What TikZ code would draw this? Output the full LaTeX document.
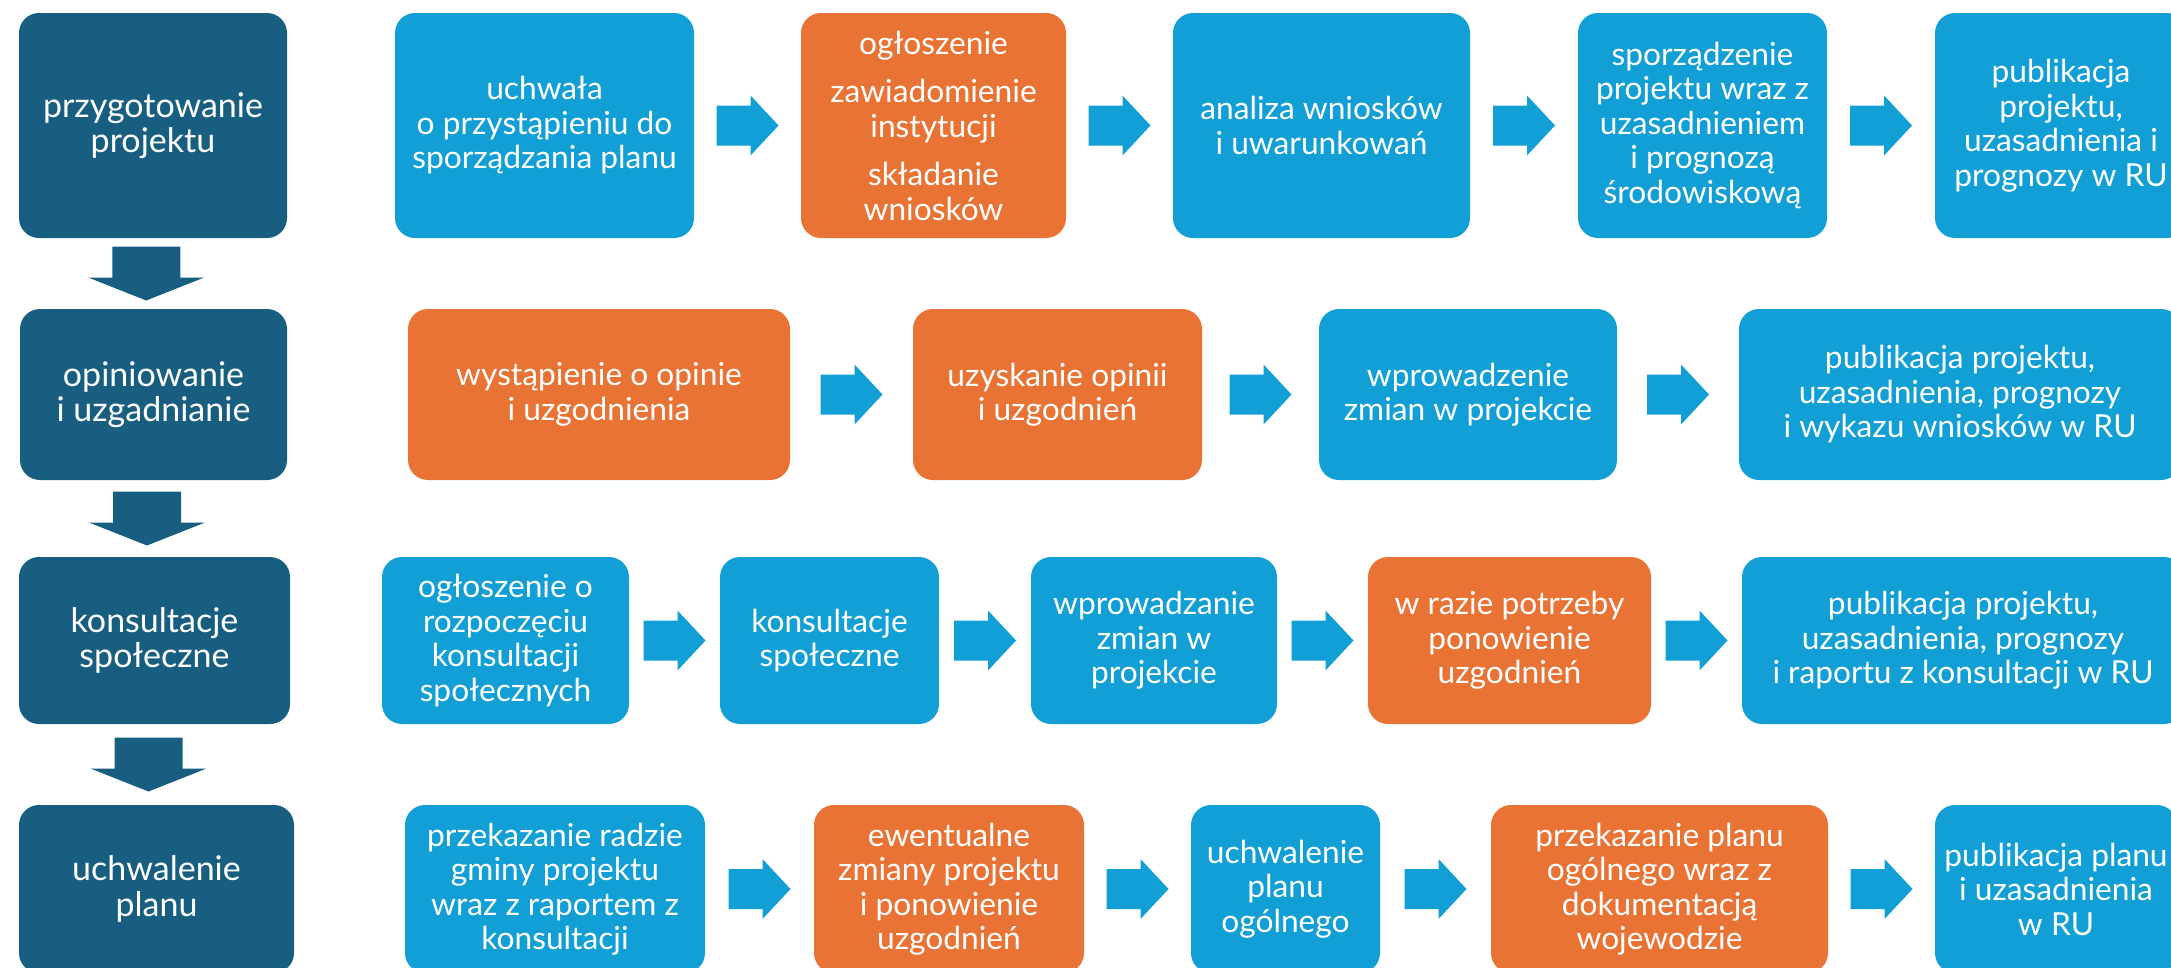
\documentclass[tikz,border=0pt]{standalone}
\usepackage{fontspec}
\setmainfont{Lato}
\usepackage{tikz}
\usetikzlibrary{calc}

\definecolor{phaseblue}{RGB}{23,94,128}
\definecolor{stepblue}{RGB}{18,159,214}
\definecolor{steporange}{RGB}{232,115,52}

\tikzset{
  box/.style={rectangle, rounded corners=20pt, inner sep=0pt, text=white,
    align=center, font=\fontsize{31.7}{34.5}\selectfont},
  phase/.style={box, fill=phaseblue, font=\fontsize{34}{35.5}\selectfont},
  stepbox/.style={box, fill=stepblue},
  orangebox/.style={box, fill=steporange},
  steparr/.style={fill=stepblue, to path={
    ($(\tikztostart.east)!0.5!(\tikztotarget.west)$) ++(-31,-20) -- ++(34,0)
    -- ++(0,-10) -- ++(28,30) -- ++(-28,30) -- ++(0,-10) -- ++(-34,0) -- cycle}},
  phasearr/.style={fill=phaseblue, to path={
    ($(\tikztostart.south)!0.5!(\tikztotarget.north)$) ++(-41,-27) -- ++(68,0)
    -- ++(0,31) -- ++(24,0) -- ++(-58,23) -- ++(-58,-23) -- ++(24,0) -- cycle}},
}

\begin{document}
\begin{tikzpicture}[x=1pt,y=-1pt]
\useasboundingbox (0,0) rectangle (2171,967);
\clip (0,0) rectangle (2171,967);

% phases
\node[phase, minimum width=268, minimum height=225] (ph1) at (153,125.5) {przygotowanie\\projektu};
\node[phase, minimum width=267, minimum height=171] (ph2) at (153.5,394.5) {opiniowanie\\i uzgadnianie};
\node[phase, minimum width=271, minimum height=167] (ph3) at (154.5,640.5) {konsultacje\\społeczne};
\node[phase, minimum width=275, minimum height=168] (ph4) at (156.5,889) {uchwalenie\\planu};

\path[phasearr] (ph1) to (ph2);
\path[phasearr] (ph2) to (ph3);
\path[phasearr] (ph3) to (ph4);

% row 1
\node[stepbox, minimum width=299, minimum height=225] (uchw) at (544.5,125.5) {uchwała\\o przystąpieniu do\\sporządzania planu};
\node[orangebox, minimum width=265, minimum height=225] (oglo) at (933.5,125.5) {ogłoszenie\\[14pt]zawiadomienie\\instytucji\\[14pt]składanie\\wniosków};
\node[stepbox, minimum width=297, minimum height=225] (anal) at (1321.5,125.5) {analiza wniosków\\i uwarunkowań};
\node[stepbox, minimum width=249, minimum height=225] (spor) at (1702.5,125.5) {sporządzenie\\projektu wraz z\\uzasadnieniem\\i prognozą\\środowiskową};
\node[stepbox, minimum width=252, minimum height=225] (publ1) at (2061,125.5) {publikacja\\projektu,\\uzasadnienia i\\prognozy w RU};

\path[steparr] (uchw) to (oglo);
\path[steparr] (oglo) to (anal);
\path[steparr] (anal) to (spor);
\path[steparr] (spor) to (publ1);

% row 2
\node[orangebox, minimum width=382, minimum height=171] (wyst) at (599,394.5) {wystąpienie o opinie\\i uzgodnienia};
\node[orangebox, minimum width=289, minimum height=171] (uzys) at (1057.5,394.5) {uzyskanie opinii\\i uzgodnień};
\node[stepbox, minimum width=298, minimum height=171] (wpro2) at (1468,394.5) {wprowadzenie\\zmian w projekcie};
\node[stepbox, minimum width=442, minimum height=171] (publ2) at (1960,394.5) {publikacja projektu,\\uzasadnienia, prognozy\\i wykazu wniosków w RU};

\path[steparr] (wyst) to (uzys);
\path[steparr] (uzys) to (wpro2);
\path[steparr] (wpro2) to (publ2);

% row 3
\node[stepbox, minimum width=247, minimum height=167] (ogl3) at (505.5,640.5) {ogłoszenie o\\rozpoczęciu\\konsultacji\\społecznych};
\node[stepbox, minimum width=219, minimum height=167] (kons) at (829.5,640.5) {konsultacje\\społeczne};
\node[stepbox, minimum width=246, minimum height=167] (wpro3) at (1154,640.5) {wprowadzanie\\zmian w\\projekcie};
\node[orangebox, minimum width=283, minimum height=167] (razie) at (1509.5,640.5) {w razie potrzeby\\ponowienie\\uzgodnień};
\node[stepbox, minimum width=442, minimum height=167] (publ3) at (1963,640.5) {publikacja projektu,\\uzasadnienia, prognozy\\i raportu z konsultacji w RU};

\path[steparr] (ogl3) to (kons);
\path[steparr] (kons) to (wpro3);
\path[steparr] (wpro3) to (razie);
\path[steparr] (razie) to (publ3);

% row 4
\node[stepbox, minimum width=300, minimum height=168] (przek) at (555,889) {przekazanie radzie\\gminy projektu\\wraz z raportem z\\konsultacji};
\node[orangebox, minimum width=270, minimum height=168] (ewent) at (949,889) {ewentualne\\zmiany projektu\\i ponowienie\\uzgodnień};
\node[stepbox, minimum width=189, minimum height=168] (uchwpl) at (1285.5,889) {uchwalenie\\planu\\ogólnego};
\node[orangebox, minimum width=337, minimum height=168] (wojew) at (1659.5,889) {przekazanie planu\\ogólnego wraz z\\dokumentacją\\wojewodzie};
\node[stepbox, minimum width=242, minimum height=168] (publ4) at (2056,889) {publikacja planu\\i uzasadnienia\\w RU};

\path[steparr] (przek) to (ewent);
\path[steparr] (ewent) to (uchwpl);
\path[steparr] (uchwpl) to (wojew);
\path[steparr] (wojew) to (publ4);
\end{tikzpicture}
\end{document}
